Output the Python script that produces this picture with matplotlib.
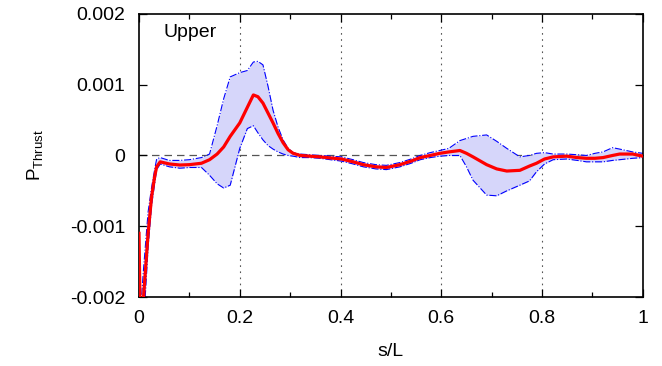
import numpy as np
import matplotlib
matplotlib.use("Agg")
import matplotlib.pyplot as plt
from matplotlib.ticker import MultipleLocator

plt.rcParams['font.family'] = ['Liberation Sans', 'DejaVu Sans']
plt.rcParams['mathtext.default'] = 'regular'

# arc-length positions along the surface
s = [0.0, 0.003, 0.009, 0.018, 0.025, 0.031, 0.035, 0.042, 0.06, 0.081,
     0.10, 0.124, 0.14, 0.155, 0.168, 0.181, 0.2, 0.215, 0.227, 0.236,
     0.246, 0.256, 0.266, 0.276, 0.286, 0.296, 0.306, 0.32, 0.339, 0.359,
     0.38, 0.402, 0.425, 0.445, 0.47, 0.491, 0.518, 0.54, 0.558, 0.578,
     0.597, 0.615, 0.637, 0.65, 0.663, 0.69, 0.71, 0.73, 0.756, 0.775,
     0.789, 0.805, 0.822, 0.849, 0.87, 0.888, 0.905, 0.921, 0.94, 0.954,
     0.98, 1.0]

# thrust power, units of 1e-3
p_mean = [-1.1, -2.6, -2.0, -1.1, -0.58, -0.3, -0.16, -0.09, -0.12, -0.135,
          -0.13, -0.11, -0.06, 0.02, 0.12, 0.27, 0.46, 0.68, 0.855, 0.83,
          0.74, 0.6, 0.46, 0.31, 0.18, 0.08, 0.03, 0.0, -0.01, -0.02,
          -0.035, -0.05, -0.09, -0.13, -0.16, -0.17, -0.13, -0.08, -0.03, 0.0,
          0.03, 0.05, 0.07, 0.03, -0.02, -0.13, -0.19, -0.22, -0.21, -0.15,
          -0.11, -0.05, -0.02, -0.01, -0.03, -0.04, -0.04, -0.03, 0.0, 0.02,
          0.02, -0.01]

p_max = [-1.6, -2.2, -1.6, -0.8, -0.45, -0.2, -0.05, -0.03, -0.07, -0.07,
         -0.06, -0.03, 0.02, 0.42, 0.8, 1.11, 1.17, 1.2, 1.32, 1.33,
         1.28, 0.98, 0.64, 0.4, 0.22, 0.1, 0.04, 0.02, 0.01, 0.0,
         -0.01, -0.02, -0.06, -0.1, -0.13, -0.14, -0.1, -0.05, 0.0, 0.04,
         0.07, 0.1, 0.21, 0.24, 0.27, 0.29, 0.2, 0.1, -0.02, 0.0,
         0.03, 0.04, 0.02, 0.02, 0.01, 0.0, 0.03, 0.05, 0.11, 0.09,
         0.05, 0.03]

p_min = [-2.6, -2.8, -2.4, -1.3, -0.7, -0.4, -0.2, -0.12, -0.16, -0.18,
         -0.17, -0.17, -0.28, -0.4, -0.46, -0.42, 0.1, 0.38, 0.42, 0.32,
         0.22, 0.14, 0.09, 0.05, 0.02, 0.0, -0.01, -0.03, -0.03, -0.04,
         -0.06, -0.08, -0.12, -0.16, -0.19, -0.2, -0.16, -0.11, -0.06, -0.03,
         -0.01, 0.0, 0.0, -0.16, -0.35, -0.56, -0.57, -0.5, -0.42, -0.36,
         -0.23, -0.12, -0.06, -0.05, -0.07, -0.09, -0.09, -0.09, -0.07, -0.06,
         -0.04, -0.03]

xticks = [0, 0.2, 0.4, 0.6, 0.8, 1.0]
xticklabels = ['0', '0.2', '0.4', '0.6', '0.8', '1']
yticks = [-0.002, -0.001, 0, 0.001, 0.002]
yticklabels = ['-0.002', '-0.001', '0', '0.001', '0.002']

s = np.array(s)
p_mean = np.array(p_mean) * 1e-3
p_max = np.array(p_max) * 1e-3
p_min = np.array(p_min) * 1e-3

fig = plt.figure(figsize=(6.62, 3.66), dpi=100)
ax = fig.add_axes([0.21, 0.1885, 0.761, 0.7735])

ax.fill_between(s, p_min, p_max, color='#d6d6fa', lw=0, zorder=1)
ax.plot(s, p_max, color='blue', lw=0.8, ls='-.', zorder=2)
ax.plot(s, p_min, color='blue', lw=0.8, ls='-.', zorder=2)
ax.plot(s, p_mean, color='red', lw=2.3, zorder=3)

for xv in xticks[1:-1]:
    ax.axvline(xv, color='#555555', lw=0.8, ls=(0, (1.5, 4)), zorder=0)
ax.axhline(0, color='#555555', lw=0.9, ls=(0, (6, 4)), zorder=0)

ax.set_xlim(0, 1)
ax.set_ylim(-0.002, 0.002)
ax.set_xticks(xticks)
ax.set_xticklabels(xticklabels)
ax.xaxis.set_minor_locator(MultipleLocator(0.1))
ax.set_yticks(yticks)
ax.set_yticklabels(yticklabels)
ax.tick_params(which='both', direction='in', top=True, right=True,
               labelsize=14)
ax.tick_params(axis='x', pad=9)
ax.tick_params(axis='y', pad=10)
ax.tick_params(which='major', length=6, width=0.9)
ax.tick_params(which='minor', length=3.5, width=0.9)
for sp in ax.spines.values():
    sp.set_linewidth(1.2)

ax.set_xlabel('s/L', fontsize=14, labelpad=12)
ax.set_ylabel('P$_{Thrust}$', fontsize=13.5, labelpad=18)
ax.text(0.048, 0.936, 'Upper', transform=ax.transAxes, fontsize=14,
        ha='left', va='center')

fig.savefig('out.png', dpi=100)
